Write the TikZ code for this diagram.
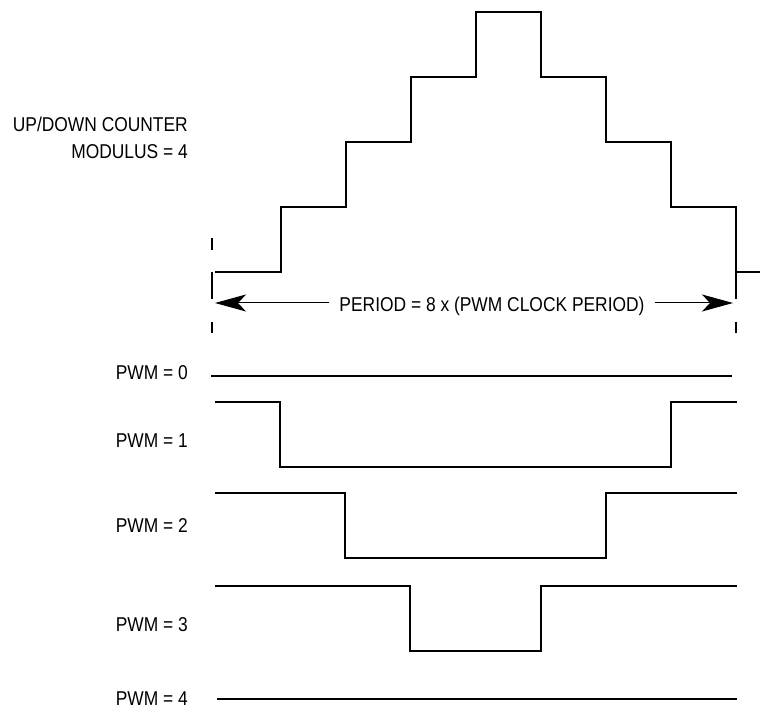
\documentclass[tikz,border=0pt]{standalone}
\usepackage{fontspec}
\setmainfont{Liberation Sans}
\newfontfamily\lblfont[FakeStretch=0.87]{Liberation Sans}
\usetikzlibrary{arrows.meta, positioning}
\tikzset{%
	wave/.style={
		line width=2pt,
		line join=miter
	},
	tick/.style={
		line width=1.3pt,
		dash pattern=on 12pt off 22pt on 27pt off 23pt on 11pt
	},
	dimarrow/.style={
		line width=1pt,
		-{Stealth[length=31pt, width=17pt, inset=8pt]}
	},
	lbl/.style={
		font=\lblfont\fontsize{20}{24}\selectfont,
		inner sep=0pt
	},
}

\begin{document}
\begin{tikzpicture}[x=1pt, y=-1pt]
			% Define the width of one clock period and the start of the period
			\newcommand{\clkW}{65}
			\newcommand{\tZero}{215}
			\useasboundingbox (0,0) rectangle (760,708);
			
			% Counter value, one step per clock
			\draw[wave] (\tZero,272) -| (281,207) -| (346,142) -| (411,77) -| (476,12) -| (541,77) -| (606,142) -| (671,207) -| (736,272) -- (760,272);
			\node[lbl, anchor=base east] (counter) at (188,132) {UP/DOWN COUNTER};
			\node[lbl, anchor=base east] (modulus) at (188,159) {MODULUS = 4};
			
			% Period markers and arrows
			\coordinate (pl) at (\tZero,303);
			\coordinate (pr) at (733,303);
			\node[lbl, anchor=base, inner xsep=10pt] (period) at (492,312) {PERIOD = 8 x (PWM CLOCK PERIOD)};
			\draw[dimarrow] (period.west |- pl) -- (pl);
			\draw[dimarrow] (period.east |- pr) -- (pr);
			\draw[tick] (212,238) -- (212,333);
			\draw[tick] (736,238) -- (736,333);
			
			% PWM outputs
			\node[lbl, anchor=base east] (pwm0) at (188,380) {PWM = 0};
			\draw[wave] (211,376) -- (732,376);
			\foreach \k/\hi/\base in {1/402/447, 2/493/532, 3/586/631} {
				\node[lbl, anchor=base east] (pwm\k) at (188,\base) {PWM = \k};
				\draw[wave] (\tZero,\hi) -| ({\tZero+\clkW*\k},{\hi+65}) -| ({736-\clkW*\k},\hi) -- (737,\hi);
			}
			\node[lbl, anchor=base east] (pwm4) at (188,705) {PWM = 4};
			\draw[wave] (217,699) -- (737,699);
		\end{tikzpicture}
\end{document}
